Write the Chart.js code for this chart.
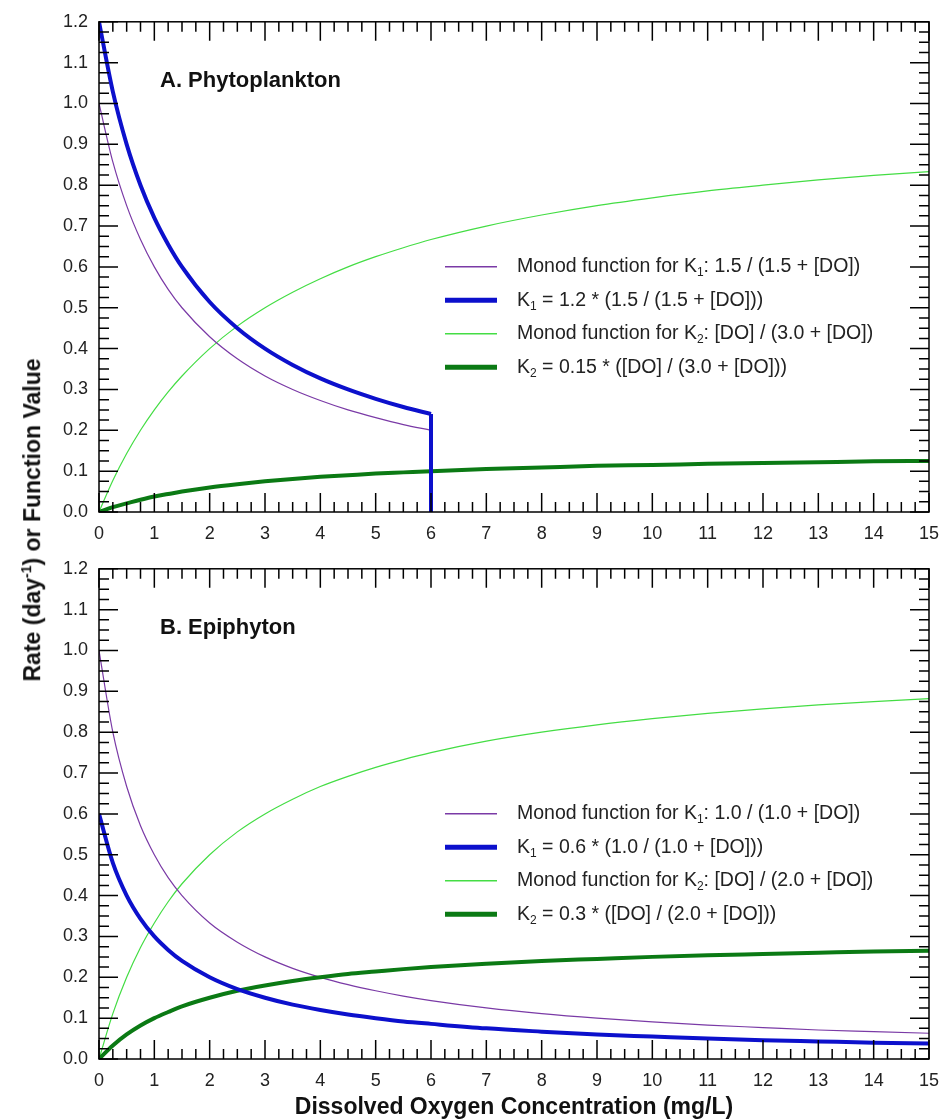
<!DOCTYPE html>
<html>
<head>
<meta charset="utf-8">
<script src="https://cdn.jsdelivr.net/npm/chart.js@4.4.1/dist/chart.umd.min.js"></script>
<style>
  body { margin: 0; background: #fff; width: 942px; height: 1120px; position: relative; overflow: hidden; font-family: "Liberation Sans", Arial, sans-serif; }
  canvas { position: absolute; left: 0; }
  #topChart { top: 0; }
  #bottomChart { top: 547px; }
  .axisTitle { position: absolute; font-weight: bold; font-size: 23px; color: #111; white-space: nowrap; }
  #xTitle { left: 0; width: 1028px; text-align: center; top: 1093px; }
  #yTitle { left: 32px; top: 520px; transform: translate(-50%, -50%) rotate(-90deg); }
  #yTitle sup { font-size: 14px; }
</style>
</head>
<body>
<canvas id="topChart" width="942" height="548"></canvas>
<canvas id="bottomChart" width="942" height="548"></canvas>
<div id="xTitle" class="axisTitle">Dissolved Oxygen Concentration (mg/L)</div>
<div id="yTitle" class="axisTitle">Rate (day<sup>-1</sup>) or Function Value</div>
<script>
// DO concentration (mg/L) sample points
const doValues = [0, 0.25, 0.5, 0.75, 1, 1.25, 1.5, 2, 2.5, 3, 3.5, 4, 4.5, 5, 5.5, 6, 7, 8, 9, 10, 11, 12, 13, 14, 15];

// Panel A: Phytoplankton (K1 curves stop at 6 mg/L)
const phytoMonodK1 = [1.000, 0.857, 0.750, 0.667, 0.600, 0.545, 0.500, 0.429, 0.375, 0.333, 0.300, 0.273, 0.250, 0.231, 0.214, 0.200];
const phytoK1 = [1.200, 1.029, 0.900, 0.800, 0.720, 0.655, 0.600, 0.514, 0.450, 0.400, 0.360, 0.327, 0.300, 0.277, 0.257, 0.240];
const phytoK1Drop = [0.240, 0.000];
const phytoMonodK2 = [0.000, 0.077, 0.143, 0.200, 0.250, 0.294, 0.333, 0.400, 0.455, 0.500, 0.538, 0.571, 0.600, 0.625, 0.647, 0.667, 0.700, 0.727, 0.750, 0.769, 0.786, 0.800, 0.813, 0.824, 0.833];
const phytoK2 = [0.000, 0.012, 0.021, 0.030, 0.038, 0.044, 0.050, 0.060, 0.068, 0.075, 0.081, 0.086, 0.090, 0.094, 0.097, 0.100, 0.105, 0.109, 0.113, 0.115, 0.118, 0.120, 0.122, 0.124, 0.125];

// Panel B: Epiphyton
const epiMonodK1 = [1.000, 0.800, 0.667, 0.571, 0.500, 0.444, 0.400, 0.333, 0.286, 0.250, 0.222, 0.200, 0.182, 0.167, 0.154, 0.143, 0.125, 0.111, 0.100, 0.091, 0.083, 0.077, 0.071, 0.067, 0.063];
const epiK1 = [0.600, 0.480, 0.400, 0.343, 0.300, 0.267, 0.240, 0.200, 0.171, 0.150, 0.133, 0.120, 0.109, 0.100, 0.092, 0.086, 0.075, 0.067, 0.060, 0.055, 0.050, 0.046, 0.043, 0.040, 0.038];
const epiMonodK2 = [0.000, 0.111, 0.200, 0.273, 0.333, 0.385, 0.429, 0.500, 0.556, 0.600, 0.636, 0.667, 0.692, 0.714, 0.733, 0.750, 0.778, 0.800, 0.818, 0.833, 0.846, 0.857, 0.867, 0.875, 0.882];
const epiK2 = [0.000, 0.033, 0.060, 0.082, 0.100, 0.115, 0.129, 0.150, 0.167, 0.180, 0.191, 0.200, 0.208, 0.214, 0.220, 0.225, 0.233, 0.240, 0.245, 0.250, 0.254, 0.257, 0.260, 0.263, 0.265];

const phytoLabels = [
    'Monod function for K_1: 1.5 / (1.5 + [DO])',
    'K_1 = 1.2 * (1.5 / (1.5 + [DO]))',
    'Monod function for K_2: [DO] / (3.0 + [DO])',
    'K_2 = 0.15 * ([DO] / (3.0 + [DO]))'
];
const epiLabels = [
    'Monod function for K_1: 1.0 / (1.0 + [DO])',
    'K_1 = 0.6 * (1.0 / (1.0 + [DO]))',
    'Monod function for K_2: [DO] / (2.0 + [DO])',
    'K_2 = 0.3 * ([DO] / (2.0 + [DO]))'
];

const PURPLE = '#7a3aa6';
const BLUE = '#0c10cc';
const LIGHT_GREEN = '#44dd44';
const DARK_GREEN = '#0b7a14';
const FONT = '"Liberation Sans", Arial, sans-serif';

function points(ys, xs) {
    return ys.map((y, i) => ({ x: xs[i], y: y }));
}

function lineSet(data, color, width) {
    return {
        data: data,
        borderColor: color,
        borderWidth: width,
        pointRadius: 0,
        fill: false,
        cubicInterpolationMode: 'monotone'
    };
}

// draws text with K_1 style subscripts
function drawRich(ctx, text, x, y, size) {
    const parts = text.split(/_(\d)/);
    let cx = x;
    parts.forEach((p, i) => {
        if (i % 2 === 1) {
            ctx.font = `${Math.round(size * 0.62)}px ${FONT}`;
            ctx.fillText(p, cx, y + size * 0.32);
        } else {
            ctx.font = `${size}px ${FONT}`;
            ctx.fillText(p, cx, y);
        }
        cx += ctx.measureText(p).width;
    });
}

const framePlugin = {
    id: 'frame',
    afterDatasetsDraw(chart, args, opts) {
        const ctx = chart.ctx;
        const area = chart.chartArea;
        const xs = chart.scales.x;
        const ys = chart.scales.y;
        ctx.save();
        ctx.strokeStyle = '#000';
        ctx.lineWidth = 1.5;
        ctx.strokeRect(area.left, area.top, area.right - area.left, area.bottom - area.top);

        // inward ticks on all four sides
        ctx.beginPath();
        for (let i = 0; i <= 60; i++) {
            const px = xs.getPixelForValue(i / 4);
            const len = i % 4 === 0 ? 19 : 10;
            ctx.moveTo(px, area.bottom); ctx.lineTo(px, area.bottom - len);
            ctx.moveTo(px, area.top); ctx.lineTo(px, area.top + len);
        }
        for (let i = 0; i <= 48; i++) {
            const py = ys.getPixelForValue(i * 0.025);
            const len = i % 4 === 0 ? 19 : 10;
            ctx.moveTo(area.left, py); ctx.lineTo(area.left + len, py);
            ctx.moveTo(area.right, py); ctx.lineTo(area.right - len, py);
        }
        ctx.stroke();

        // panel title
        ctx.fillStyle = '#111';
        ctx.textBaseline = 'middle';
        ctx.font = `bold 22px ${FONT}`;
        ctx.fillText(opts.title, area.left + 61, area.top + 59);

        // legend
        const rows = [245, 278.5, 312, 345.5];
        const styles = [[PURPLE, 1.5], [BLUE, 5], [LIGHT_GREEN, 1.5], [DARK_GREEN, 5]];
        opts.labels.forEach((label, i) => {
            const y = area.top + rows[i];
            ctx.strokeStyle = styles[i][0];
            ctx.lineWidth = styles[i][1];
            ctx.beginPath();
            ctx.moveTo(area.left + 346, y);
            ctx.lineTo(area.left + 398, y);
            ctx.stroke();
            ctx.fillStyle = '#222';
            drawRich(ctx, label, area.left + 418, y, 19.5);
        });
        ctx.restore();
    }
};

function makeChart(id, datasets, title, labels) {
    return new Chart(document.getElementById(id), {
        type: 'line',
        data: { datasets: datasets },
        plugins: [framePlugin],
        options: {
            responsive: false,
            animation: false,
            devicePixelRatio: 1,
            layout: { padding: { top: 20, right: 13, left: 0, bottom: 0 } },
            plugins: {
                legend: { display: false },
                tooltip: { enabled: false },
                frame: { title: title, labels: labels }
            },
            scales: {
                x: {
                    type: 'linear',
                    min: 0,
                    max: 15,
                    grid: { display: false, drawTicks: false },
                    border: { display: false },
                    ticks: { stepSize: 1, padding: 11, color: '#222', font: { size: 18, family: FONT } },
                    afterFit: (s) => { s.height = 36; s.paddingLeft = 0; s.paddingRight = 0; }
                },
                y: {
                    min: 0,
                    max: 1.2,
                    grid: { display: false, drawTicks: false },
                    border: { display: false },
                    ticks: { stepSize: 0.1, padding: 11, color: '#222', font: { size: 18, family: FONT },
                        callback: (v) => Number(v).toFixed(1) },
                    afterFit: (s) => { s.width = 99; }
                }
            }
        }
    });
}

const phytoX = doValues.slice(0, phytoK1.length);

makeChart('topChart', [
    lineSet(points(phytoK1, phytoX), BLUE, 4),
    lineSet(points(phytoK1Drop, [6, 6]), BLUE, 4),
    lineSet(points(phytoK2, doValues), DARK_GREEN, 4),
    lineSet(points(phytoMonodK1, phytoX), PURPLE, 1.2),
    lineSet(points(phytoMonodK2, doValues), LIGHT_GREEN, 1.2)
], 'A. Phytoplankton', phytoLabels);

makeChart('bottomChart', [
    lineSet(points(epiK1, doValues), BLUE, 4),
    lineSet(points(epiK2, doValues), DARK_GREEN, 4),
    lineSet(points(epiMonodK1, doValues), PURPLE, 1.2),
    lineSet(points(epiMonodK2, doValues), LIGHT_GREEN, 1.2)
], 'B. Epiphyton', epiLabels);
</script>
</body>
</html>
